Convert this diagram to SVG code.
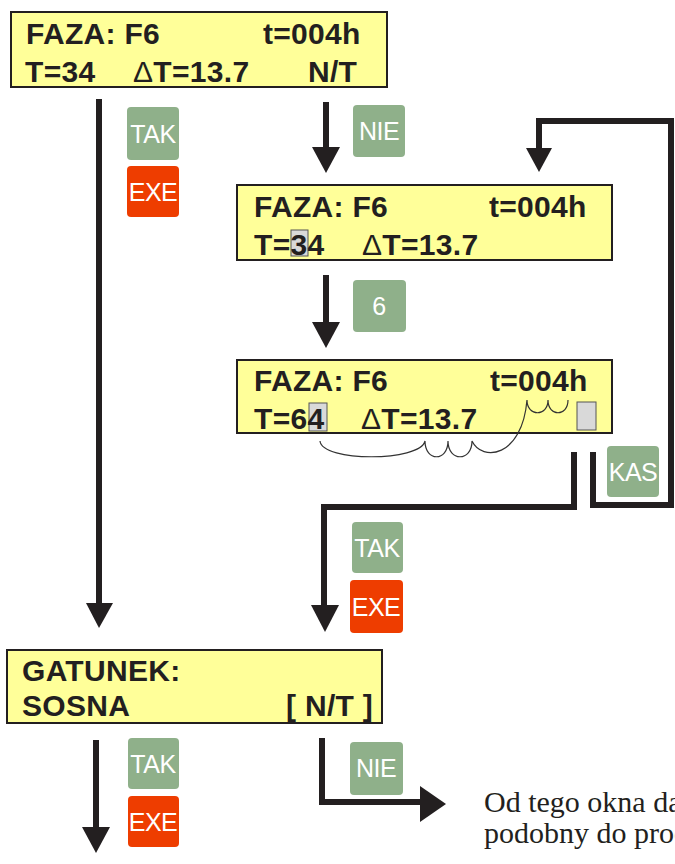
<svg xmlns="http://www.w3.org/2000/svg" width="675" height="864" viewBox="0 0 675 864">
<style>
.lcd{fill:#FFFF99;stroke:#231F20;stroke-width:2}
.lt{font-family:"Liberation Sans",Arial,sans-serif;font-weight:bold;font-size:30px;letter-spacing:0.3px;fill:#231F20}
.d{font-weight:normal}
.g{fill:#8FB08A}
.r{fill:#EE3D00}
.bt{font-family:"Liberation Sans",Arial,sans-serif;font-size:25px;fill:#FFFFFF;text-anchor:middle;letter-spacing:-0.5px}
.hl{fill:#D9D9D9;stroke:#555;stroke-width:1}
.wire{fill:none;stroke:#231F20;stroke-width:6}
.head{fill:#231F20}
.brace{fill:none;stroke:#333;stroke-width:1.2}
.note{font-family:"Liberation Serif","Times New Roman",serif;font-size:30px;fill:#231F20}
</style>

<g id="connectors">
  <path class="wire" d="M99,99 V605"/>
  <polygon class="head" points="86,603 113,603 99,628"/>
  <path class="wire" d="M326,102 V150"/>
  <polygon class="head" points="312,147 340,147 326,173"/>
  <path class="wire" d="M326,275 V325"/>
  <polygon class="head" points="312,322 340,322 326,348"/>
  <path class="wire" d="M593,452 V505 H671 V121 H539 V150"/>
  <polygon class="head" points="526,148 552,148 539,172"/>
  <path class="wire" d="M574,452 V507 H324 V607"/>
  <polygon class="head" points="311,605 339,605 325,632"/>
  <path class="wire" d="M96,740 V830"/>
  <polygon class="head" points="82,827 110,827 96,853"/>
  <path class="wire" d="M322,738 V802 H422"/>
  <polygon class="head" points="420,786 420,822 446,804"/>
</g>

<g id="lcd1">
  <rect class="lcd" x="11" y="12" width="376" height="75"/>
  <text class="lt" x="26" y="44">FAZA: F6</text>
  <text class="lt" x="263" y="44">t=004h</text>
  <text class="lt" x="25" y="82">T=34</text>
  <text class="lt" x="133" y="82"><tspan class="d">Δ</tspan>T=13.7</text>
  <text class="lt" x="308" y="82">N/T</text>
</g>

<g id="lcd2">
  <rect class="lcd" x="237" y="185" width="375" height="75"/>
  <rect class="hl" x="291" y="230" width="17" height="26"/>
  <text class="lt" x="254" y="217">FAZA: F6</text>
  <text class="lt" x="489" y="217">t=004h</text>
  <text class="lt" x="254" y="255">T=34</text>
  <text class="lt" x="362" y="255"><tspan class="d">Δ</tspan>T=13.7</text>
</g>

<g id="lcd3">
  <rect class="lcd" x="237" y="360" width="375" height="73"/>
  <rect class="hl" x="309" y="403" width="18" height="28"/>
  <rect class="hl" x="577" y="402" width="19" height="28"/>
  <text class="lt" x="254" y="391">FAZA: F6</text>
  <text class="lt" x="490" y="391">t=004h</text>
  <text class="lt" x="254" y="429">T=64</text>
  <text class="lt" x="361" y="429"><tspan class="d">Δ</tspan>T=13.7</text>
  <path class="brace" d="M320,441 C322,462 420,462 425,441 C425,462 448,462 448,441 C448,462 472,462 472,441 C482,462 522,458 527,400 C527,417 548,417 548,400 C548,417 568,417 568,400"/>
</g>

<g id="lcd4">
  <rect class="lcd" x="7" y="650" width="375" height="73"/>
  <text class="lt" x="22" y="681">GATUNEK:</text>
  <text class="lt" x="22" y="716">SOSNA</text>
  <text class="lt" x="286" y="716">[ N/T ]</text>
</g>

<g id="btn-tak1"><rect class="g" x="127" y="107" width="52" height="53" rx="4"/><text class="bt" x="153" y="143">TAK</text></g>
<g id="btn-exe1"><rect class="r" x="127" y="166" width="52" height="51" rx="4"/><text class="bt" x="153" y="201">EXE</text></g>
<g id="btn-nie1"><rect class="g" x="353" y="105" width="52" height="52" rx="4"/><text class="bt" x="379" y="140">NIE</text></g>
<g id="btn-6"><rect class="g" x="353" y="280" width="53" height="52" rx="4"/><text class="bt" x="379" y="315">6</text></g>
<g id="btn-kas"><rect class="g" x="607" y="446" width="52" height="51" rx="4"/><text class="bt" x="633" y="481">KAS</text></g>
<g id="btn-tak2"><rect class="g" x="352" y="522" width="51" height="51" rx="4"/><text class="bt" x="377" y="557">TAK</text></g>
<g id="btn-exe2"><rect class="r" x="350" y="580" width="53" height="53" rx="4"/><text class="bt" x="376" y="616">EXE</text></g>
<g id="btn-tak3"><rect class="g" x="128" y="738" width="51" height="51" rx="4"/><text class="bt" x="153" y="773">TAK</text></g>
<g id="btn-exe3"><rect class="r" x="128" y="796" width="51" height="51" rx="4"/><text class="bt" x="153" y="831">EXE</text></g>
<g id="btn-nie2"><rect class="g" x="350" y="742" width="53" height="53" rx="4"/><text class="bt" x="376" y="777">NIE</text></g>

<g id="note">
  <text class="note" x="484" y="812">Od tego okna da</text>
  <text class="note" x="484" y="843">podobny do proc</text>
</g>
</svg>
